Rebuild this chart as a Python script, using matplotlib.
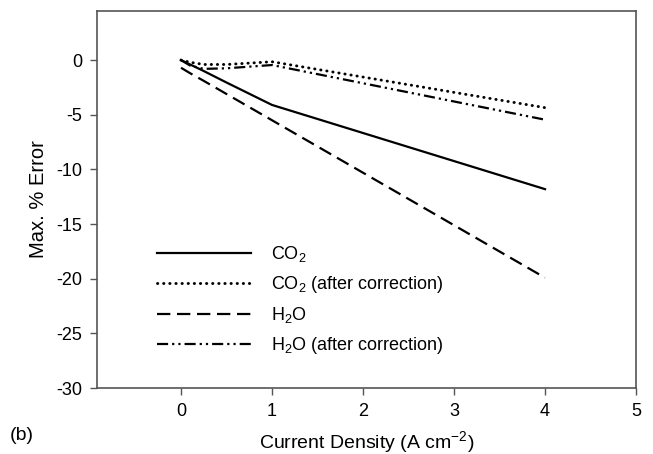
import numpy as np
import matplotlib
matplotlib.use('Agg')
import matplotlib.pyplot as plt

plt.rcParams['font.family'] = ['Liberation Sans', 'DejaVu Sans']
plt.rcParams['mathtext.default'] = 'regular'
plt.rcParams['axes.unicode_minus'] = False

# data
current = [0, 0.1, 0.25, 0.5, 1, 4]
co2 = [0, -0.4, -1.0, -2.05, -4.1, -11.8]
co2_corr = [0, -0.2, -0.4, -0.4, -0.15, -4.35]
h2o = [-0.7, -1.2, -1.9, -3.1, -5.5, -19.9]
h2o_corr = [0, -0.5, -0.8, -0.75, -0.45, -5.45]

labels = ['CO$_2$', 'CO$_2$ (after correction)', 'H$_2$O', 'H$_2$O (after correction)']
x_ticks = [0, 1, 2, 3, 4, 5]
y_ticks = [0, -5, -10, -15, -20, -25, -30]

fig = plt.figure(figsize=(6.53, 4.54), dpi=100)
ax = fig.add_axes([0.149, 0.145, 0.825, 0.831])

lw = 1.6
ax.plot(current, co2, color='black', lw=lw, ls='-', label=labels[0])
ax.plot(current, co2_corr, color='black', lw=lw + 0.5, ls=(0, (0.1, 2.0)),
        dash_capstyle='round', label=labels[1])
ax.plot(current, h2o, color='black', lw=lw, ls=(0, (6, 3)), label=labels[2])
ax.plot(current, h2o_corr, color='black', lw=lw, ls=(0, (5, 1.8, 1, 1.8, 1, 1.8)),
        label=labels[3])

ax.set_xlim(-0.92, 5)
ax.set_ylim(-30, 4.5)
ax.set_xticks(x_ticks)
ax.set_yticks(y_ticks)
ax.tick_params(direction='out', length=5, width=1, color='#555555',
               labelsize=13, pad=6)
for s in ax.spines.values():
    s.set_color('#555555')
    s.set_linewidth(1.2)

ax.set_xlabel('Current Density (A cm$^{-2}$)', fontsize=14, labelpad=6)
ax.set_ylabel('Max. % Error', fontsize=14.5, labelpad=6)
fig.text(0.015, 0.03, '(b)', fontsize=14)

ax.legend(loc='lower left', bbox_to_anchor=(157 / 653, 1 - 356 / 454),
          bbox_transform=fig.transFigure, frameon=False, fontsize=13,
          handlelength=5.2, handletextpad=1.1, labelspacing=0.55,
          borderpad=0, borderaxespad=0)

fig.savefig('out.png', dpi=100)
